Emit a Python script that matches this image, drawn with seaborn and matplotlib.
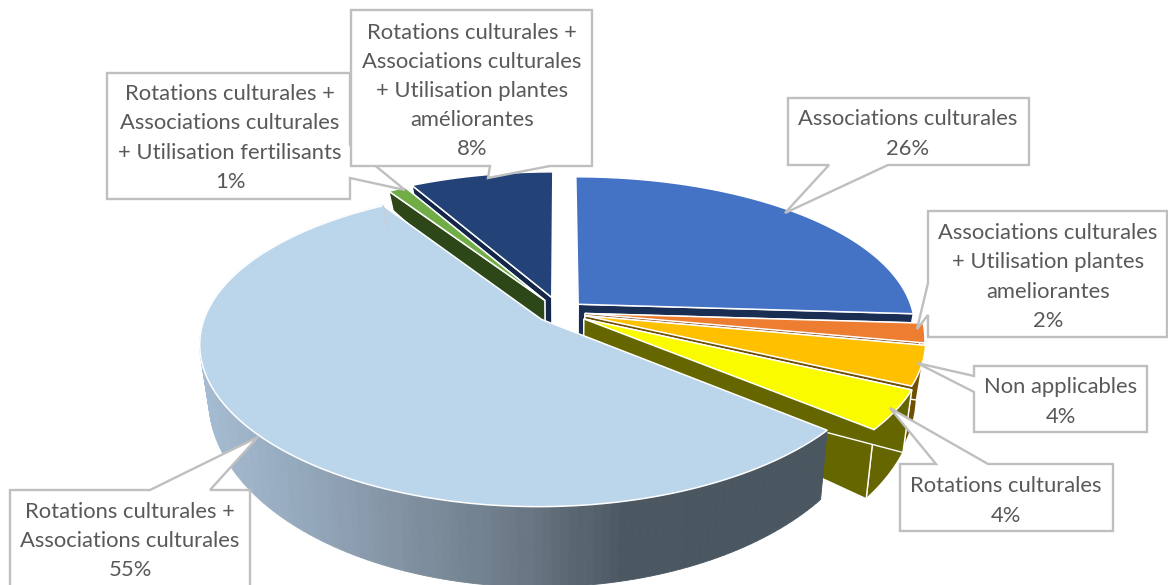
import numpy as np
import matplotlib
matplotlib.use('Agg')
import matplotlib.pyplot as plt
from matplotlib.patches import Polygon
import seaborn as sns

# Data
labels = ['Associations culturales',
          'Associations culturales\n+ Utilisation plantes\nameliorantes',
          'Non applicables',
          'Rotations culturales',
          'Rotations culturales +\nAssociations culturales',
          'Rotations culturales +\nAssociations culturales\n+ Utilisation fertilisants',
          'Rotations culturales +\nAssociations culturales\n+ Utilisation plantes\naméliorantes']
values = [26, 2, 4, 4, 55, 1, 8]
explode = [0.075, 0.075, 0.078, 0.084, 0.073, 0.09, 0.10]

top_colors = ['#4472C4', '#ED7D31', '#FFC000', '#FBFB00', '#BBD5EA', '#70AD47', '#234277']
side_colors = ['#1A2D52', '#8A4A1C', '#6E5000', '#666600', '#4A5660', '#2D4719', '#14264A']
side_ramp = ['#A6BCD2', '#93A7BA', '#808F9F', '#6B7986', '#4B5761', '#4A5660', '#4A5660']

# callout boxes: left, top, right, bottom, pointer base a, tip, pointer base b, text centre
boxes = [
    (788, 98, 1029, 165, (829, 165), (785, 213), (888, 165), (908, 134)),
    (928, 211, 1167, 337, (928, 283), (917, 329), (928, 315), (1048, 277)),
    (974, 366, 1147, 432, (974, 376), (917, 363), (974, 392), (1061, 402)),
    (900, 464, 1113, 531, (936, 464), (890, 408), (988, 464), (1006, 501)),
    (10, 490, 250, 590, (150, 490), (258, 437), (210, 490), (130, 541)),
    (107, 73, 350, 199, (350, 145), (405, 190), (350, 178), (230, 138)),
    (351, 10, 592, 166, (490, 166), (488, 178), (550, 166), (472, 91)),
]

# Projection of the tilted pie to image pixels
cx, cy = 560, 312
rx, ry = 335, 152
persp_x, persp_y = 0.15, 0.173
draw_order = [6, 5, 0, 1, 2, 3, 4]


def project(x, y, z=0.0):
    h = 48 - 31 * y
    sx = cx + rx * x / (1 + persp_x * y) * (1 - 0.025 * z)
    sy = cy - ry * y / (1 + persp_y * y) + z * h
    return np.column_stack([sx, sy])


sns.set_theme(style='white')
plt.rcParams['font.family'] = ['Lato', 'DejaVu Sans']

fig = plt.figure(figsize=(11.68, 5.85), dpi=100)
ax = fig.add_axes([0, 0, 1, 1])

wedges, _ = ax.pie(values, explode=explode, startangle=90, counterclock=False, radius=1)
geom = [(w.center, w.theta1, w.theta2) for w in wedges]
for w in wedges:
    w.remove()

ax.set_aspect('auto')
ax.set_xlim(0, 1168)
ax.set_ylim(585, 0)
ax.axis('off')

ramp = sns.blend_palette(side_ramp, n_colors=64)

for i in draw_order:
    (c0, c1), t1, t2 = geom[i]
    th = np.radians(np.linspace(t1, t2, 160))
    xs = c0 + np.cos(th)
    ys = c1 + np.sin(th)

    upper = project(xs, ys, 0)
    lower = project(xs, ys, 1)

    if i == 4:
        # big slice: gradient wall only, its cut faces are hidden anyway
        for j in range(len(th) - 1):
            quad = np.vstack([upper[j:j + 2], lower[j:j + 2][::-1]])
            pos = (quad[:, 0].mean() - 200) / (830 - 200)
            col = ramp[int(np.clip(pos, 0, 1) * 63)]
            ax.add_patch(Polygon(quad, closed=True, fc=col, ec=col, lw=0.6))
        ax.plot([upper[0, 0], lower[0, 0]], [upper[0, 1], lower[0, 1]], color='#C8CFD4', lw=1)
    else:
        wall = np.vstack([upper, lower[::-1]])
        ax.add_patch(Polygon(wall, closed=True, fc=side_colors[i], ec='white', lw=1))
        # cut faces
        for k in (0, -1):
            fx = np.array([c0, xs[k]])
            fy = np.array([c1, ys[k]])
            face = np.vstack([project(fx, fy, 0), project(fx, fy, 1)[::-1]])
            ax.add_patch(Polygon(face, closed=True, fc=side_colors[i], ec='white', lw=1))

    # top surface
    top = np.vstack([project(np.array([c0]), np.array([c1])), upper])
    ax.add_patch(Polygon(top, closed=True, fc=top_colors[i], ec='white', lw=1.1))

# callouts with their labels
for (label, val, b) in zip(labels, values, boxes):
    x0, y0, x1, y1, a, tip, c, centre = b
    if a[1] == y1:    # pointer on the bottom edge
        pts = [(x0, y0), (x1, y0), (x1, y1), c, tip, a, (x0, y1)]
    elif a[1] == y0:  # pointer on the top edge
        pts = [(x0, y0), a, tip, c, (x1, y0), (x1, y1), (x0, y1)]
    else:             # pointer on the side
        side = x0 if a[0] == x0 else x1
        if side == x0:
            pts = [(x0, y0), (x1, y0), (x1, y1), (x0, y1), c, tip, a]
        else:
            pts = [(x0, y0), (x1, y0), a, tip, c, (x1, y1), (x0, y1)]
    ax.add_patch(Polygon(pts, closed=True, fc='white', ec='#BFBFBF', lw=1.7,
                         joinstyle='miter', zorder=5))
    ax.text(centre[0], centre[1], f'{label}\n{val}%', ha='center', va='center',
            fontsize=15.8, color='#595959', linespacing=1.57, zorder=6)

fig.savefig('out.png', dpi=100)
